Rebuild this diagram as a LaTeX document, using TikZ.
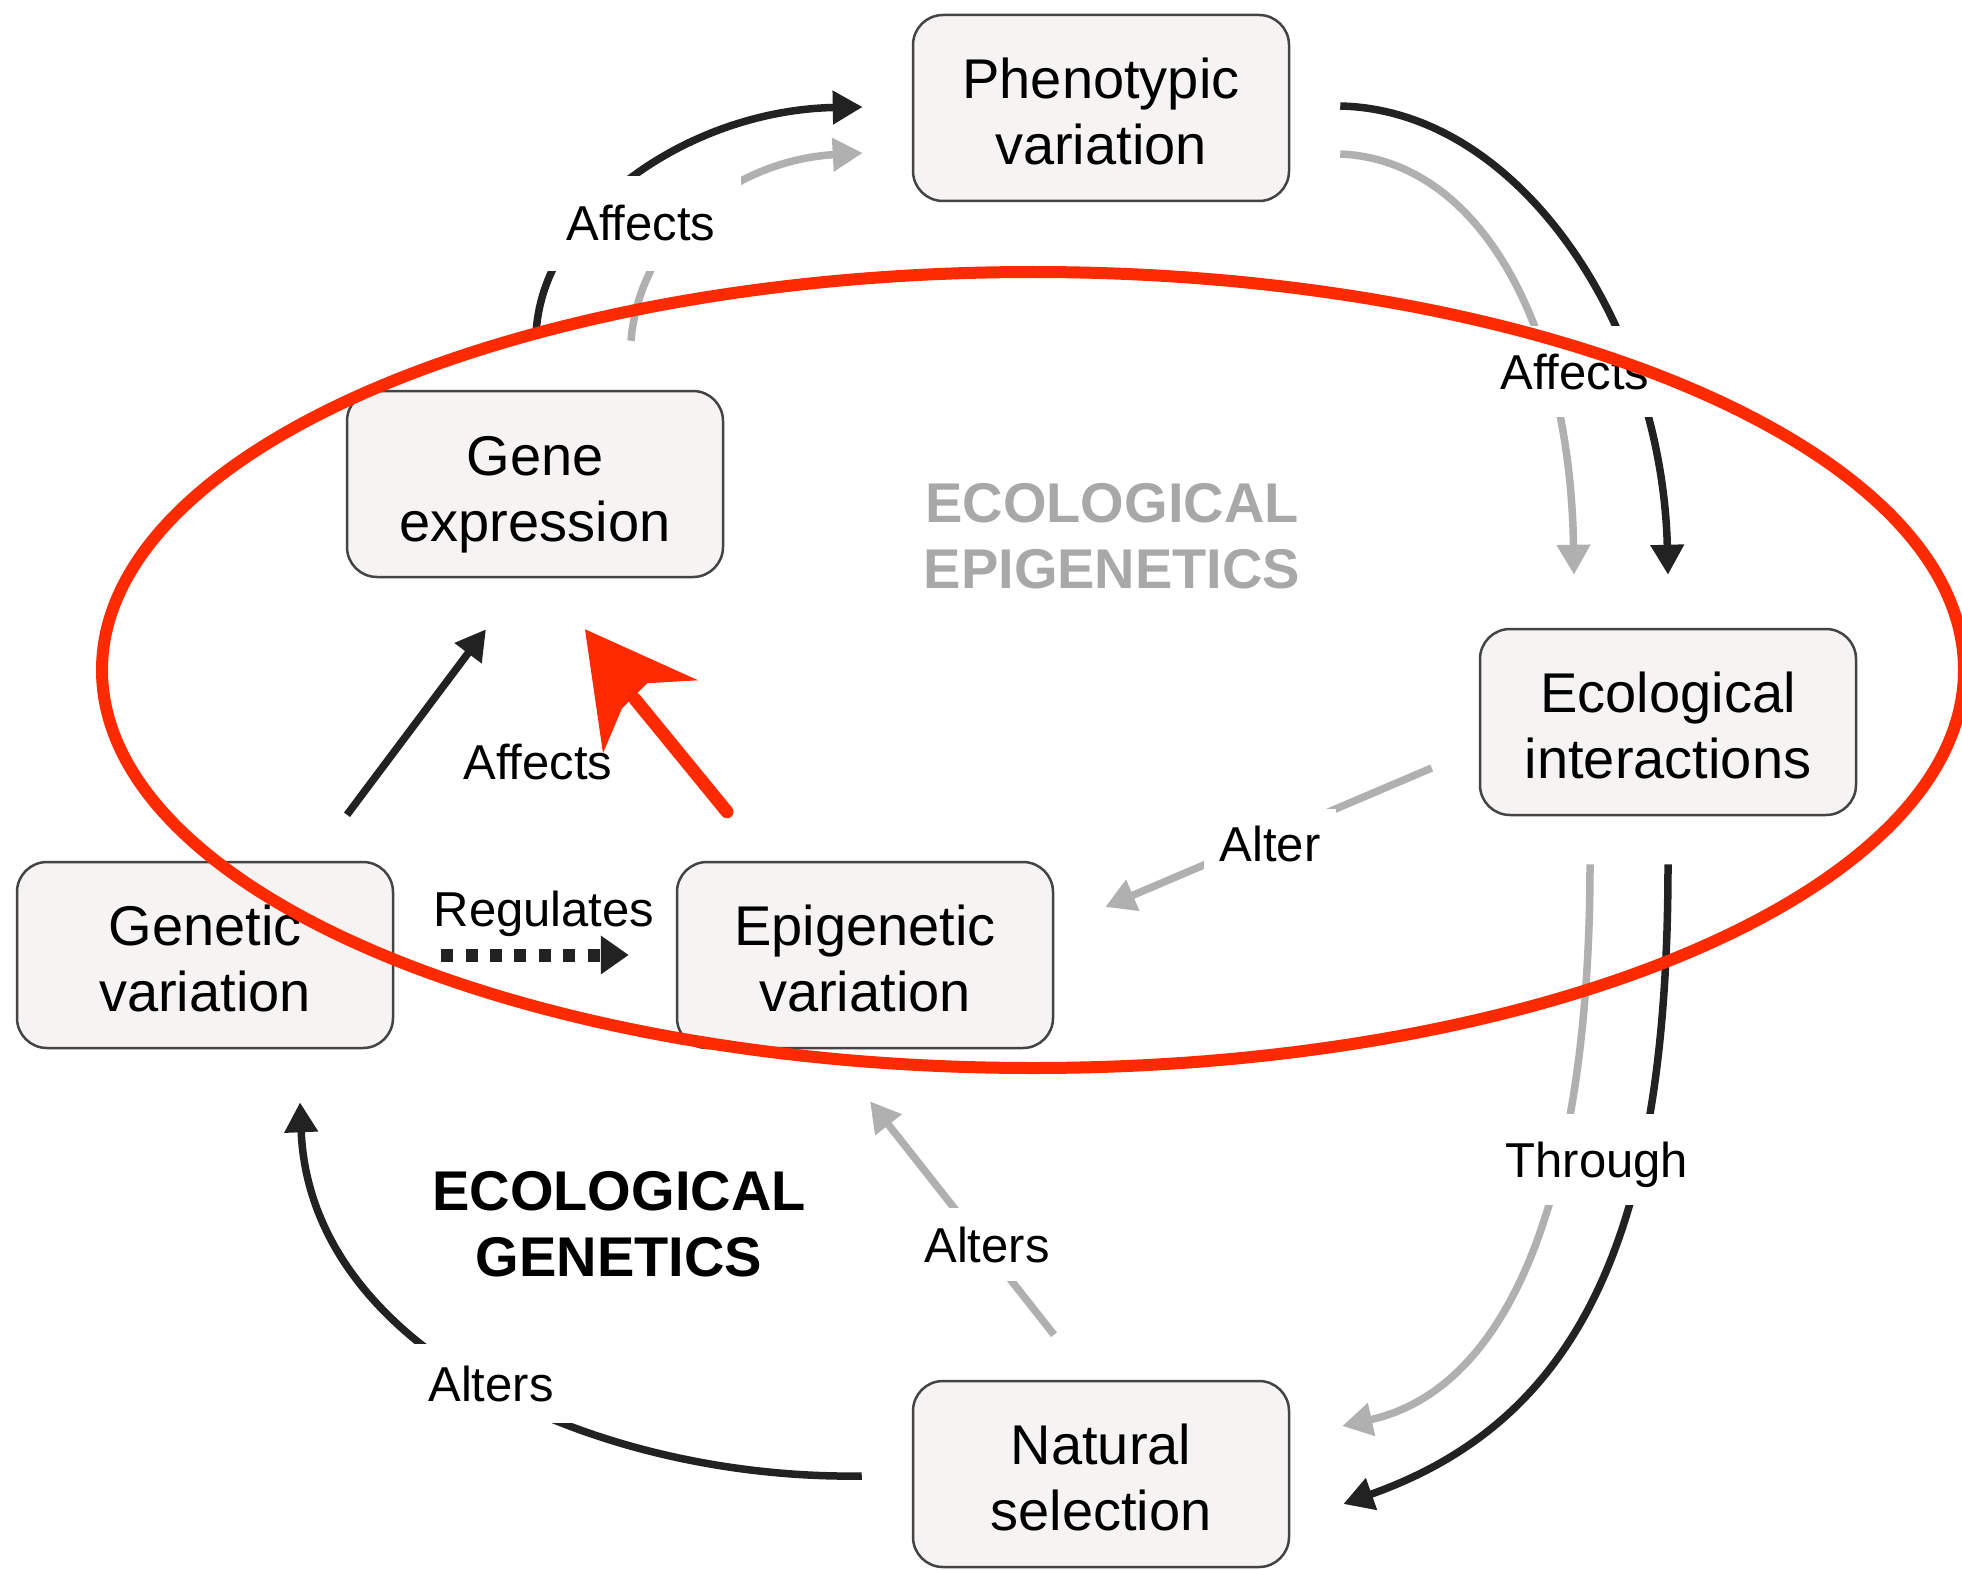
\documentclass[tikz,border=0pt]{standalone}
\usepackage{fontspec}
\setmainfont{Liberation Sans}
\usetikzlibrary{arrows.meta}
\definecolor{boxfill}{HTML}{F5F4F2}
\definecolor{boxline}{HTML}{444444}
\definecolor{blk}{HTML}{222222}
\definecolor{gry}{HTML}{B0B0B0}
\definecolor{gtext}{HTML}{A8A8A8}
\definecolor{redmark}{HTML}{FF2A00}
\newcommand{\firstln}{\rule{0pt}{48pt}}
\begin{document}
\begin{tikzpicture}[x=1pt,y=-1pt,
  box/.style={draw=boxline, line width=2.5pt, fill=boxfill, rounded corners=30pt,
    minimum width=376pt, minimum height=186pt, align=center, inner sep=0pt,
    font=\fontsize{56}{66}\selectfont},
  lab/.style={font=\fontsize{49}{59}\selectfont, anchor=base, inner sep=0pt},
  cut/.style={lab, fill=white, inner xsep=18pt, inner ysep=22pt, text depth=0pt},
  blkarrow/.style={draw=blk, line width=7.5pt, -{Triangle[length=30pt,width=32pt]}},
  gryarrow/.style={draw=gry, line width=7.5pt, -{Triangle[length=30pt,width=32pt]}},
  heading/.style={font=\fontsize{56}{66}\selectfont\bfseries, align=center, inner sep=0pt}
]
\fill[white] (0,0) rectangle (1962,1570);
\useasboundingbox (0,0) rectangle (1962,1570);

% boxes
\node[box] (pheno)   at (1101,108)  {\firstln Phenotypic\\variation};
\node[box] (gene)    at (535,484)   {\firstln Gene\\\smash{expression}};
\node[box] (eco)     at (1668,722)  {\firstln Ecological\\interactions};
\node[box] (genetic) at (205,955)   {\firstln Genetic\\variation};
\node[box] (epi)     at (865,955)   {\firstln Epigenetic\\variation};
\node[box] (nat)     at (1101,1474) {\firstln Natural\\selection};

% connector end points
\coordinate (a1s) at ([shift={(1,-54)}]gene.north);
\coordinate (a1e) at ([shift={(-49,-1)}]pheno.west);
\coordinate (a2s) at ([shift={(96,-49)}]gene.north);
\coordinate (a2e) at ([shift={(-49,45)}]pheno.west);
\coordinate (a3s) at ([shift={(50,-2)}]pheno.east);
\coordinate (a3e) at ([shift={(0,-53)}]eco.north);
\coordinate (a4s) at ([shift={(50,46)}]pheno.east);
\coordinate (a4e) at ([shift={(-94,-53)}]eco.north);
\coordinate (a5s) at ([shift={(0,48)}]eco.south);
\coordinate (a5e) at ([shift={(53,30)}]nat.east);
\coordinate (a6s) at ([shift={(-78,48)}]eco.south);
\coordinate (a6e) at ([shift={(52,-48)}]nat.east);
\coordinate (a7s) at ([shift={(-50,2)}]nat.west);
\coordinate (a7e) at ([shift={(95,53)}]genetic.south);
\coordinate (a8s) at ([shift={(-47,-45)}]nat.north);
\coordinate (a8e) at ([shift={(5,52)}]epi.south);
\coordinate (a9s) at ([shift={(-47,46)}]eco.west);
\coordinate (a9e) at ([shift={(51,-48)}]epi.east);
\coordinate (a10s) at ([shift={(142,-46)}]genetic.north);
\coordinate (a10e) at ([shift={(-49,51)}]gene.south);
\coordinate (a11s) at ([shift={(47,0)}]genetic.east);
\coordinate (a11e) at ([shift={(-47,0)}]epi.west);
\coordinate (a12s) at ([shift={(-138,-49)}]epi.north);
\coordinate (a12e) at ([shift={(50,51)}]gene.south);
\coordinate (a12m) at ([shift={(50,70)}]a12e);

% connectors
\draw[blkarrow] (a1s) .. controls +(4,-122) and +(-174,3) .. (a1e);
\draw[gryarrow] (a2s) .. controls +(9,-110) and +(-124,7) .. (a2e);
\draw[blkarrow] (a3s) .. controls +(181,4) and +(-6,-246) .. (a3e);
\draw[gryarrow] (a4s) .. controls +(141,6) and +(-4,-246) .. (a4e);
\draw[blkarrow] (a5s) .. controls +(0,367) and +(238,-84) .. (a5e);
\draw[gryarrow] (a6s) .. controls +(0,287) and +(184,-41) .. (a6e);
\draw[blkarrow] (a7s) .. controls +(-263,4) and +(10,249) .. (a7e);
\draw[gryarrow] (a8s) -- (a8e);
\draw[gryarrow] (a9s) -- (a9e);
\draw[blkarrow] (a10s) -- (a10e);
\draw[draw=blk, line width=13pt, dash pattern=on 12pt off 12.4pt,
      -{Triangle[length=28pt,width=37pt]}] (a11s) -- (a11e);

% labels
\node[cut, inner xsep=26pt, inner ysep=30pt] (lab1) at (641,241) {Affects};
\node[cut, inner ysep=28pt] (lab2) at (1575,389) {Affects};
\node[lab] (lab3) at (538,779) {Affects};
\node[lab] (lab4) at (544,926) {Regulates};
\node[cut, inner xsep=16pt, inner ysep=17pt] (lab5) at (1270,861) {Alter};
\node[cut, inner ysep=19pt] (lab6) at (987,1262) {Alters};
\node[cut, inner ysep=28pt] (lab7) at (1597,1177) {Through};
\node[cut] (lab8) at (491,1401) {Alters};

\node[heading, text=gtext] (epihead) at (1112,536) {ECOLOGICAL\\EPIGENETICS};
\node[heading, text=black] (genhead) at (619,1224) {ECOLOGICAL\\GENETICS};

% red hand marks
\draw[redmark, line width=12pt] (1033,670) ellipse [x radius=931pt, y radius=398pt];
\draw[redmark, line width=13pt, line cap=round] (a12s) -- (a12m);
\fill[redmark] (a12e) -- ++(18,124) -- ++(19,-45) -- ++(25,-25) -- ++(51,-3) -- cycle;
\end{tikzpicture}
\end{document}
